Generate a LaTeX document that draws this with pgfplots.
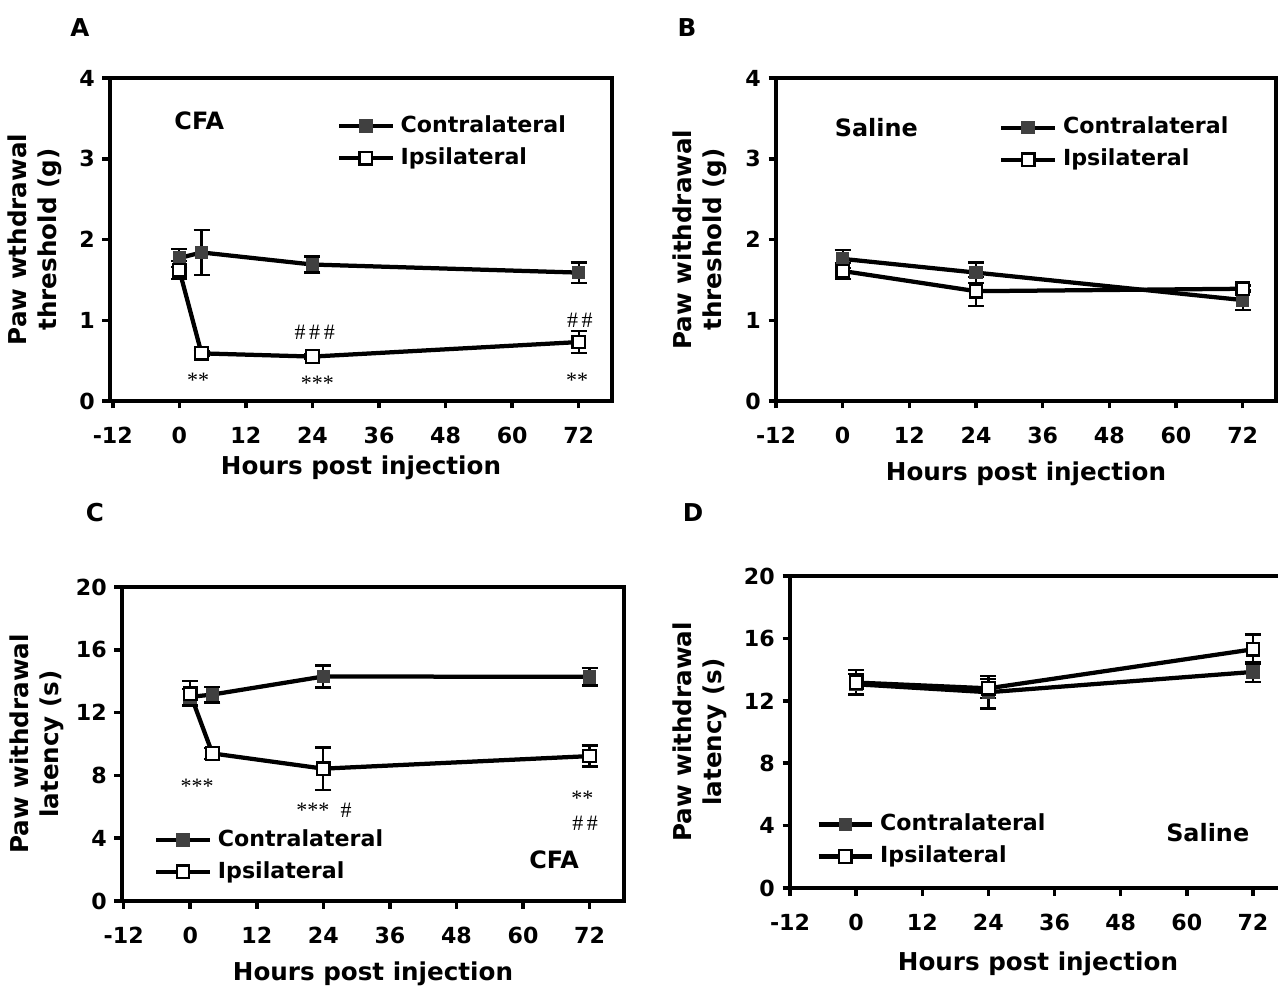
\documentclass[border=0pt]{standalone}
\usepackage{pgfplots}
\pgfplotsset{compat=1.18}
\usepackage{fontspec}
\setmainfont{DejaVu Sans}
\newfontfamily\serifann{Liberation Serif}
\definecolor{fillc}{HTML}{404040}
\tikzset{
  ann/.style={font=\serifann\fontsize{12.5pt}{14pt}\selectfont, inner sep=0pt},
  tag/.style={font=\bfseries\fontsize{13.6pt}{15pt}\selectfont, inner sep=0pt},
}
\pgfplotsset{
  panel/.style={
    scale only axis,
    anchor=south west,
    axis line style={line width=0.8mm},
    every tick/.style={line width=0.7mm, black},
    major tick length=1.5mm,
    tick align=outside,
    tick pos=left,
    xtick={-12,0,12,24,36,48,60,72},
    ticklabel style={font=\bfseries\fontsize{12.6pt}{14pt}\selectfont},
    xticklabel style={yshift=-2.4mm},
    yticklabel style={xshift=-0.3mm},
    /pgf/number format/assume math mode=true,
    label style={font=\bfseries\fontsize{14pt}{17pt}\selectfont},
    ylabel style={align=center, anchor=center},
    xlabel style={anchor=center},
    clip=false,
    legend style={draw=none, fill=none, inner sep=0pt, outer sep=0pt,
      font=\bfseries\fontsize{12.6pt}{14pt}\selectfont,
      nodes={inner sep=0pt, text height=3.3mm, text depth=0.8mm},
      row sep=2.3mm,
      /tikz/every odd column/.append style={column sep=1.2mm}},
    legend cell align=left,
    legend image code/.code={\draw[mark repeat=2,mark phase=2,##1] plot coordinates {(0mm,0mm) (5.35mm,0mm) (10.7mm,0mm)};},
  },
  contra/.style={line width=0.85mm, black, mark=square*, mark size=1.25mm,
    mark options={fill=fillc, draw=fillc, line width=0.2mm, solid},
    error bars/.cd, y dir=both, y explicit,
    error bar style={line width=0.45mm, black},
    error mark options={rotate=90, line width=0.45mm, mark size=1.6mm, black}},
  ipsi/.style={line width=0.85mm, black, mark=square*, mark size=1.25mm,
    mark options={fill=white, draw=black, line width=0.45mm, solid},
    error bars/.cd, y dir=both, y explicit,
    error bar style={line width=0.45mm, black},
    error mark options={rotate=90, line width=0.45mm, mark size=1.6mm, black}},
}
\begin{document}
\begin{tikzpicture}
% ---------------- A ----------------
\begin{axis}[panel, at={(22mm,116.8mm)}, width=100.4mm, height=64.6mm,
  xmin=-12.5, xmax=78, ymin=0, ymax=4, ytick={0,1,2,3,4},
  ylabel={Paw wthdrawal\\threshold (g)}, xlabel={Hours post injection},
  ylabel style={at={(axis description cs:-0.149,0.5)}},
  xlabel style={at={(axis description cs:0.5,0)}, yshift=-13.4mm},
  legend style={at={(axis cs:28.4,3.205)}, anchor=west}]
\addplot[contra] table[x=x, y=y, y error=e] {
x y e
0 1.77 0.11
4 1.84 0.28
24 1.69 0.10
72 1.59 0.125
};
\addlegendentry{Contralateral}
\addplot[ipsi] table[x=x, y=y, y error=e] {
x y e
0 1.62 0.11
4 0.59 0.03
24 0.55 0.03
72 0.73 0.135
};
\addlegendentry{Ipsilateral}
\node[tag] at (axis cs:3.6,3.47) {CFA};
\node[ann] at (axis cs:3.4,0.255) {**};
\node[ann] at (axis cs:24.9,0.222) {***};
\node[ann] at (axis cs:71.7,0.255) {**};
\node[ann] at (axis cs:24.4,0.85) {\#\,\#\,\#};
\node[ann] at (axis cs:72.2,1.0) {\#\,\#};
\end{axis}
% ---------------- B ----------------
\begin{axis}[panel, at={(155.2mm,116.8mm)}, width=100mm, height=64.6mm,
  xmin=-12, xmax=78, ymin=0, ymax=4, ytick={0,1,2,3,4},
  ylabel={Paw withdrawal\\threshold (g)}, xlabel={Hours post injection},
  ylabel style={at={(axis description cs:-0.152,0.5)}},
  xlabel style={at={(axis description cs:0.5,0)}, yshift=-14.6mm},
  legend style={at={(axis cs:28.2,3.186)}, anchor=west}]
\addplot[contra] table[x=x, y=y, y error=e] {
x y e
0 1.76 0.11
24 1.59 0.125
72 1.25 0.12
};
\addlegendentry{Contralateral}
\addplot[ipsi] table[x=x, y=y, y error=e] {
x y e
0 1.61 0.10
24 1.36 0.18
72 1.39 0.04
};
\addlegendentry{Ipsilateral}
\node[tag] at (axis cs:6.05,3.385) {Saline};
\end{axis}
% ---------------- C ----------------
\begin{axis}[panel, at={(24.4mm,16.8mm)}, width=100.4mm, height=62.8mm,
  xmin=-12.3, xmax=78.2, ymin=0, ymax=20, ytick={0,4,8,12,16,20},
  ylabel={Paw withdrawal\\latency (s)}, xlabel={Hours post injection},
  ylabel style={at={(axis description cs:-0.169,0.5)}},
  xlabel style={at={(axis description cs:0.5,0)}, yshift=-14.6mm},
  legend style={at={(axis cs:-6.5,2.875)}, anchor=west}]
\addplot[contra] table[x=x, y=y, y error=e] {
x y e
0 13.0 0.5
4 13.15 0.5
24 14.3 0.7
72 14.28 0.55
};
\addlegendentry{Contralateral}
\addplot[ipsi] table[x=x, y=y, y error=e] {
x y e
0 13.2 0.8
4 9.4 0.36
24 8.43 1.35
72 9.23 0.67
};
\addlegendentry{Ipsilateral}
\node[tag] at (axis cs:65.6,2.64) {CFA};
\node[ann] at (axis cs:1.26,7.3) {***};
\node[ann] at (axis cs:22.1,5.8) {***};
\node[ann] at (axis cs:28.1,5.8) {\#};
\node[ann] at (axis cs:70.7,6.55) {**};
\node[ann] at (axis cs:71.2,4.92) {\#\,\#};
\end{axis}
% ---------------- D ----------------
\begin{axis}[panel, at={(158mm,19.4mm)}, width=99.2mm, height=62.4mm,
  xmin=-12, xmax=78, ymin=0, ymax=20, ytick={0,4,8,12,16,20},
  ylabel={Paw withdrawal\\latency (s)}, xlabel={Hours post injection},
  ylabel style={at={(axis description cs:-0.181,0.5)}},
  xlabel style={at={(axis description cs:0.5,0)}, yshift=-15.2mm},
  legend style={at={(axis cs:-7.2,3.05)}, anchor=west}]
\addplot[contra] table[x=x, y=y, y error=e] {
x y e
0 13.06 0.65
24 12.55 1.05
72 13.85 0.64
};
\addlegendentry{Contralateral}
\addplot[ipsi] table[x=x, y=y, y error=e] {
x y e
0 13.17 0.8
24 12.8 0.6
72 15.3 0.95
};
\addlegendentry{Ipsilateral}
\node[tag] at (axis cs:63.8,3.56) {Saline};
\end{axis}
\node[font=\bfseries\fontsize{14pt}{17pt}\selectfont] at (16mm,191.4mm) {A};
\node[font=\bfseries\fontsize{14pt}{17pt}\selectfont] at (137.4mm,191.4mm) {B};
\node[font=\bfseries\fontsize{14pt}{17pt}\selectfont] at (19mm,94.4mm) {C};
\node[font=\bfseries\fontsize{14pt}{17pt}\selectfont] at (138.6mm,94.4mm) {D};
\pgfresetboundingbox
\path[use as bounding box] (0,0) rectangle (255.6mm,197mm);
\end{tikzpicture}
\end{document}
